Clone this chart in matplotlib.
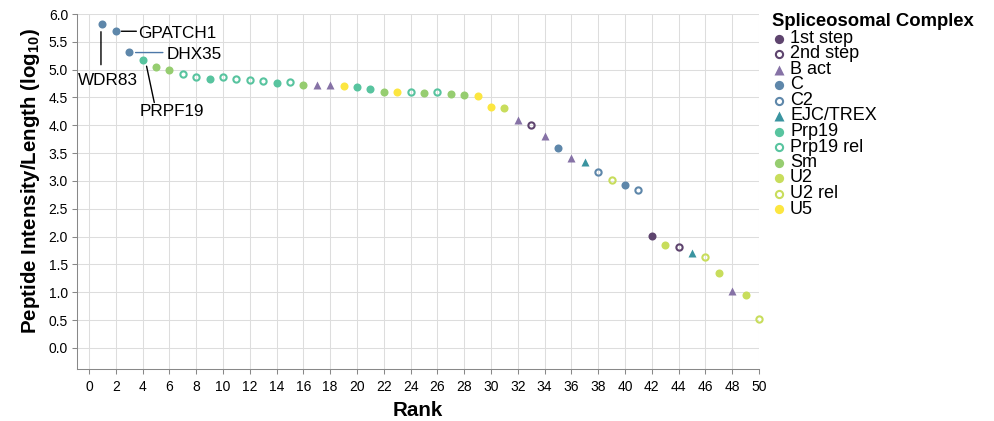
import matplotlib
matplotlib.use("Agg")
import matplotlib.pyplot as plt
from matplotlib.lines import Line2D
from matplotlib.transforms import offset_copy

plt.rcParams['font.family'] = ['Liberation Sans', 'DejaVu Sans']
plt.rcParams['mathtext.fontset'] = 'custom'
plt.rcParams['mathtext.rm'] = 'Liberation Sans'
plt.rcParams['mathtext.bf'] = 'Liberation Sans:bold'

# data
ranks = list(range(1, 51))
values = [5.82, 5.69, 5.32, 5.17, 5.04, 4.99, 4.92, 4.86, 4.84, 4.86,
          4.83, 4.81, 4.80, 4.76, 4.77, 4.73, 4.72, 4.72, 4.71, 4.69,
          4.65, 4.60, 4.59, 4.59, 4.58, 4.59, 4.56, 4.54, 4.52, 4.33,
          4.31, 4.10, 4.01, 3.80, 3.60, 3.41, 3.34, 3.16, 3.02, 2.93,
          2.84, 2.02, 1.85, 1.81, 1.70, 1.64, 1.34, 1.02, 0.96, 0.52]
complexes = ["C", "C", "C", "Prp19", "Sm", "Sm", "Prp19 rel", "Prp19 rel", "Prp19", "Prp19 rel",
             "Prp19 rel", "Prp19 rel", "Prp19 rel", "Prp19", "Prp19 rel", "Sm", "B act", "B act", "U5", "Prp19",
             "Prp19", "Sm", "U5", "Prp19 rel", "Sm", "Prp19 rel", "Sm", "Sm", "U5", "U5",
             "U2", "B act", "2nd step", "B act", "C", "B act", "EJC/TREX", "C2", "U2 rel", "C",
             "C2", "1st step", "U2", "2nd step", "EJC/TREX", "U2 rel", "U2", "B act", "U2", "U2 rel"]

complex_order = ["1st step", "2nd step", "B act", "C", "C2", "EJC/TREX",
                 "Prp19", "Prp19 rel", "Sm", "U2", "U2 rel", "U5"]
complex_colors = ["#5e446e", "#5e446e", "#8672a6", "#5e87aa", "#5e87aa", "#3a94a0",
                  "#58c49f", "#58c49f", "#96cd70", "#c8dd5c", "#c8dd5c", "#fce640"]
complex_shapes = ["filled", "open", "triangle", "filled", "open", "triangle",
                  "filled", "open", "filled", "filled", "open", "filled"]

# labelled proteins: rank -> name
labels = {1: "WDR83", 2: "GPATCH1", 3: "DHX35", 4: "PRPF19"}

W, H = 994, 421
fig = plt.figure(figsize=(W / 100, H / 100), dpi=100)
ax = fig.add_axes([76.5 / W, 52 / H, (759 - 76.5) / W, (369 - 14) / H])


def marker_style(color, shape, scale=1.0):
    if shape == "open":
        return dict(marker='o', markersize=4.5 * scale, markerfacecolor='none',
                    markeredgecolor=color, markeredgewidth=1.5)
    if shape == "triangle":
        return dict(marker='^', markersize=6.2 * scale, markerfacecolor=color,
                    markeredgecolor='none')
    return dict(marker='o', markersize=5.8 * scale, markerfacecolor=color,
                markeredgecolor='none')


for name, color, shape in zip(complex_order, complex_colors, complex_shapes):
    xs = [r for r, c in zip(ranks, complexes) if c == name]
    ys = [v for v, c in zip(values, complexes) if c == name]
    ax.plot(xs, ys, linestyle='none', clip_on=False, zorder=3,
            **marker_style(color, shape))

ax.set_xlim(-0.93, 50)
ax.set_ylim(-0.378, 6.0)
ax.set_xticks(range(0, 51, 2))
ax.set_yticks([i * 0.5 for i in range(13)])
ax.set_yticklabels([f"{i * 0.5:.1f}" for i in range(13)])
ax.grid(True, color='#dddddd', linewidth=0.75)
ax.set_axisbelow(True)
for side in ['top', 'right']:
    ax.spines[side].set_visible(False)
for side in ['left', 'bottom']:
    ax.spines[side].set_color('#888888')
    ax.spines[side].set_linewidth(0.75)
ax.tick_params(axis='both', length=3.6, width=0.75, color='#888888', labelsize=10)
ax.tick_params(axis='x', pad=4.5)
ax.tick_params(axis='y', pad=2.5)

ax.set_xlabel("Rank", fontsize=14.8, fontweight='bold')
ax.set_ylabel(r"Peptide Intensity/Length (log$\mathbf{_{10}}$)", fontsize=14.8, fontweight='bold')
ax.xaxis.set_label_coords(0.5, -0.09)
ax.yaxis.set_label_coords(-0.051, 0.53)


# annotations, offsets in pixels from each labelled point
def off(dx, dy):
    return offset_copy(ax.transData, fig=fig, x=dx, y=dy, units='dots')


# (line start, line end, text pos, ha, line colour)
annot_style = {
    "WDR83": ((-1.4, -7.7), (-1.4, -40.7), (5.3, -60.9), 'center', 'black'),
    "GPATCH1": ((5.6, 0), (20.6, 0), (22.3, -6.7), 'left', 'black'),
    "DHX35": ((6.4, -0.7), (33.7, -0.7), (37.0, -6.8), 'left', '#4c78a8'),
    "PRPF19": ((4.0, -6.0), (11.7, -42.3), (29.0, -55.5), 'center', 'black'),
}
for r, name in labels.items():
    v = values[ranks.index(r)]
    p1, p2, pt, ha, lc = annot_style[name]
    ax.annotate("", xy=(r, v), xycoords=off(*p1), xytext=(r, v), textcoords=off(*p2),
                arrowprops=dict(arrowstyle='-', color=lc, lw=1.0, shrinkA=0, shrinkB=0),
                annotation_clip=False)
    ax.text(r, v, name, transform=off(*pt), ha=ha, va='baseline', fontsize=12.3,
            clip_on=False)

# legend drawn by hand to match the packed rows
fig.text(772 / W, 1 - 26 / H, "Spliceosomal Complex", fontsize=13.3,
         fontweight='bold', ha='left', va='baseline')
for i, (name, color, shape) in enumerate(zip(complex_order, complex_colors, complex_shapes)):
    y = 38.5 + 15.5 * i
    fig.add_artist(Line2D([779 / W], [1 - y / H], transform=fig.transFigure,
                          linestyle='none', **marker_style(color, shape, 1.15)))
    fig.text(790 / W, 1 - (y + 4.5) / H, name, fontsize=13, ha='left', va='baseline')

fig.savefig("out.png", dpi=100)
